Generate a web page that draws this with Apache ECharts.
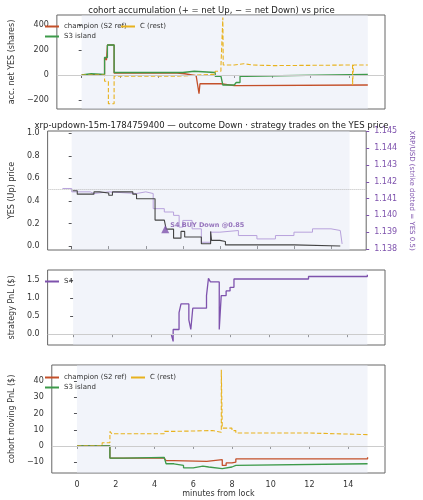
<!DOCTYPE html><html><head><meta charset="utf-8"><script src="https://cdn.jsdelivr.net/npm/echarts@6/dist/echarts.min.js"></script>
<style>body{margin:0}#c{width:423px;height:500px}</style></head><body><div id="c"></div><script>
const accChampion=[[0,0],[0.3,5],[1.2,5],[1.2,140],[1.3,120],[1.35,240],[1.7,240],[1.7,15],[4,15],[5,10],[5.4,-5],[6,-15],[6.1,-100],[6.15,-150],[6.2,-70],[7,-70],[7.3,-85],[8,-85],[8.2,-80],[15,-80]];
const accS3=[[0,0],[0.1,10],[0.5,5],[1.2,5],[1.2,140],[1.35,240],[1.7,240],[1.7,20],[5,20],[5.3,30],[5.9,40],[6,20],[7,20],[7,-10],[7.3,-10],[7.4,-80],[8,-80],[8.1,-60],[8.3,-10],[8.6,5],[15,5]];
const accC=[[0,0],[1.2,0],[1.2,-50],[1.4,-230],[1.7,-230],[1.7,-10],[4,-10],[5,5],[6.8,5],[7,30],[7.3,70],[7.4,70],[7.4,460],[7.42,80],[8,90],[8.5,80],[9,75],[10,80],[14.2,80],[14.2,-80],[14.25,80],[15,80]];
const yesPrice=[[0.05,0.49],[0.3,0.46],[1,0.46],[1.2,0.48],[1.5,0.47],[2,0.45],[2.2,0.46],[2.2,0.48],[3,0.48],[3.3,0.46],[3.5,0.42],[4.5,0.42],[4.5,0.23],[5,0.23],[5.1,0.15],[5.5,0.15],[5.5,0.07],[5.9,0.07],[5.9,0.13],[6.1,0.13],[6.1,0.08],[7,0.08],[7,0.02],[7.5,0.02],[7.5,0.13],[7.55,0.05],[8,0.04],[8.3,0.04],[8.3,0.01],[12,0.01],[12,0],[14.5,0]];
const xrpUsd=[[-0.5,1.1416],[0,1.1414],[0.3,1.1414],[1,1.1413],[1.2,1.1414],[2,1.1413],[3.5,1.1414],[4,1.1413],[4.4,1.1404],[5,1.1402],[5.5,1.1400],[5.8,1.1393],[6,1.1397],[6.5,1.1392],[7,1.1384],[7.5,1.1390],[8,1.1391],[9,1.1388],[10,1.1386],[11,1.1388],[12,1.1390],[13,1.1392],[14,1.1391],[14.5,1.1390],[14.6,1.1383]];
const s4Pnl=[[5,0],[5.1,-0.2],[5.1,0.13],[5.4,0.13],[5.4,0.6],[5.5,0.84],[5.9,0.84],[5.9,0.4],[6,0.13],[6.1,0.13],[6.1,0.72],[6.8,0.72],[6.8,1.07],[6.9,1.55],[7.0,1.55],[7.0,1.45],[7.45,1.45],[7.45,0.13],[7.55,1.07],[7.8,1.2],[8.0,1.3],[8.2,1.3],[8.2,1.53],[12,1.53],[12,1.6],[15,1.65]];
const pnlChampion=[[0,0],[1.7,0],[1.7,-7.5],[4.5,-7.5],[4.6,-9],[5,-9.5],[6.7,-9.5],[6.8,-8.5],[7.5,-8.5],[7.5,-12],[7.7,-10.5],[8,-10],[8.2,-8],[15,-8],[15,-7]];
const pnlS3=[[0,0],[1.7,0],[1.7,-7.5],[2.4,-7],[4.5,-7.5],[4.6,-11],[5,-12],[5.5,-13.5],[6,-12.5],[6.5,-13],[6.8,-14],[7.5,-14],[7.6,-13],[8,-12],[8.2,-11],[15,-11]];
const pnlC=[[0,0],[1.3,2],[1.7,2.5],[1.7,9],[1.8,7.5],[4,7.5],[4.5,9],[5,9.5],[7,9],[7.1,8.5],[7.45,8.5],[7.45,47],[7.5,11],[8,9.5],[8.2,8],[12,8],[12,7],[15,7]];
const buyMarker=[[5.05,0.15]];
const xTicks=[0,2,4,6,8,10,12,14];
const accTicks=[-200,0,200,400];
const yesTicks=[0,0.2,0.4,0.6,0.8,1.0];
const xrpTicks=[1.138,1.139,1.140,1.141,1.142,1.143,1.144,1.145];
const s4Ticks=[0,0.5,1.0,1.5];
const pnlTicks=[-10,0,10,20,30,40];

const CH='#c4502a',S3='#3d9a4a',CC='#e8b21e',S4='#7e52ad',XR='#b8a2dc',F='DejaVu Sans';
const grids=[[15,94],[131,119],[270,75],[365,108]].map(g=>({left:38,right:38,top:g[0],height:g[1],show:true,borderColor:'#666',borderWidth:1}));
const xAx=i=>({type:'value',gridIndex:i,min:-1.3,max:15.9,axisLine:{show:false},axisTick:{show:true,length:3,lineStyle:{color:'#555'},customValues:xTicks},
 axisLabel:{show:i===3,customValues:xTicks,fontSize:8,color:'#333',fontFamily:F},splitLine:{show:false},
 name:i===3?'minutes from lock':'',nameLocation:'middle',nameGap:16,nameTextStyle:{fontSize:8,color:'#333',fontFamily:F}});
const yAx=(i,min,max,ticks,name,fmt)=>({type:'value',gridIndex:i,min,max,name,nameLocation:'middle',nameGap:i===0?26:(i===3?24:22),
 nameTextStyle:{fontSize:8,color:'#333',fontFamily:F},axisLine:{show:false},axisTick:{show:true,length:3,customValues:ticks},
 axisLabel:{fontSize:8,color:'#333',fontFamily:F,customValues:ticks,formatter:fmt||(v=>String(v).replace('-','−'))},splitLine:{show:false}});
const area={silent:true,itemStyle:{color:'rgba(226,231,243,0.45)'},data:[[{xAxis:0},{xAxis:15}]]};
const zero={silent:true,symbol:'none',label:{show:false},lineStyle:{color:'#ccc',width:1,type:'solid'},data:[{yAxis:0}]};
const ln=(name,data,xi,yi,color,extra)=>Object.assign({name,type:'line',xAxisIndex:xi,yAxisIndex:yi,data,step:'end',symbol:'none',lineStyle:{color,width:1.3},itemStyle:{color},z:3},extra||{});
const legTxt={fontSize:7,color:'#333',fontFamily:F};
const L=(name,left,top)=>({data:[name],left,top,itemWidth:14,itemHeight:2,textStyle:legTxt,icon:'rect'});
const opt={animation:false,backgroundColor:'#fff',
 title:[{text:'cohort accumulation (+ = net Up, − = net Down) vs price',left:'center',top:1,textStyle:{fontSize:8.5,fontWeight:'normal',color:'#222',fontFamily:F}},
 {text:'xrp-updown-15m-1784759400 — outcome Down · strategy trades on the YES price',left:'center',top:116,textStyle:{fontSize:8.5,fontWeight:'normal',color:'#222',fontFamily:F}}],
 grid:grids,
 legend:[L('champion (S2 ref)',40,18),L('S3 island',40,28),L('C (rest)',116,18),L('S4',40,273),
  L('champion (S2 ref) ',40,369),L('S3 island ',40,379),L('C (rest) ',126,369)],
 xAxis:[xAx(0),xAx(1),xAx(2),xAx(3)],
 yAxis:[yAx(0,-272,480,accTicks,'acc. net YES (shares)'),
  yAx(1,-0.035,1.02,yesTicks,'YES (Up) price',v=>v.toFixed(1)),
  yAx(2,-0.3,1.78,s4Ticks,'strategy PnL ($)',v=>v.toFixed(1)),
  yAx(3,-16.7,50,pnlTicks,'cohort moving PnL ($)'),
  {type:'value',gridIndex:1,position:'right',min:1.13794,max:1.14502,splitLine:{show:false},axisLine:{show:false},axisTick:{show:true,length:3,customValues:xrpTicks,lineStyle:{color:S4}},
   axisLabel:{fontSize:8,color:S4,fontFamily:F,customValues:xrpTicks,formatter:v=>v.toFixed(3)},
   name:'XRP/USD (strike dotted = YES 0.5)',nameLocation:'middle',nameGap:31,nameRotate:-90,nameTextStyle:{fontSize:7,color:S4,fontFamily:F}}],
 series:[
  ln('champion (S2 ref)',accChampion,0,0,CH,{markArea:area,markLine:zero}),
  ln('S3 island',accS3,0,0,S3),
  ln('C (rest)',accC,0,0,CC,{lineStyle:{color:CC,width:1.1,type:'dashed'}}),
  ln('XRP',xrpUsd,1,4,XR,{lineStyle:{color:XR,width:1}}),
  ln('YES',yesPrice,1,1,'#444',{lineStyle:{color:'#444',width:1.1},markArea:area,markLine:{silent:true,symbol:'none',label:{show:false},lineStyle:{color:'#bbb',width:1,type:'dotted'},data:[{yAxis:0.5}]}}),
  {type:'scatter',xAxisIndex:1,yAxisIndex:1,data:buyMarker,symbol:'triangle',symbolSize:8,itemStyle:{color:S4},z:5,
   label:{show:true,position:'right',distance:1,offset:[0,-4],formatter:'S4 BUY Down @0.85',fontSize:6.5,fontWeight:'bold',color:S4,fontFamily:F}},
  ln('S4',s4Pnl,2,2,S4,{markArea:area,markLine:zero}),
  ln('champion (S2 ref) ',pnlChampion,3,3,CH,{markArea:area,markLine:zero}),
  ln('S3 island ',pnlS3,3,3,S3),
  ln('C (rest) ',pnlC,3,3,CC,{lineStyle:{color:CC,width:1.1,type:'dashed'}})]};
echarts.init(document.getElementById('c')).setOption(opt);
</script></body></html>
